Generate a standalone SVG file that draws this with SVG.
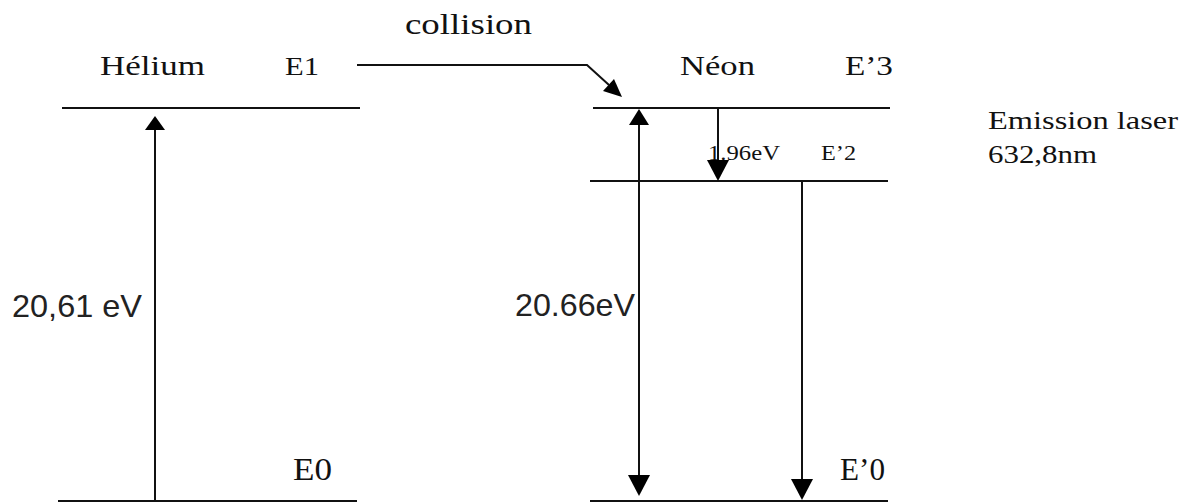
<svg xmlns="http://www.w3.org/2000/svg" width="1186" height="504" viewBox="0 0 1186 504">
  <style>
    .lvl { stroke: #111; stroke-width: 2; fill: none; }
    .conn { stroke: #111; stroke-width: 2; fill: none; }
    .head { fill: #000; stroke: none; }
    .serif { font-family: "Liberation Serif", "Times New Roman", serif; fill: #111; }
    .sans { font-family: "Liberation Sans", Arial, sans-serif; fill: #222; }
  </style>
  <rect width="1186" height="504" fill="#fff"/>

  <g id="helium">
    <text class="serif" x="100" y="75" font-size="27" textLength="105" lengthAdjust="spacingAndGlyphs">Hélium</text>
  </g>
  <g id="level-E1">
    <line class="lvl" x1="62" y1="108" x2="360" y2="108"/>
    <text class="serif" x="285" y="75" font-size="26" textLength="34" lengthAdjust="spacingAndGlyphs">E1</text>
  </g>
  <g id="level-E0">
    <line class="lvl" x1="58" y1="501" x2="357" y2="501"/>
    <text class="serif" x="293" y="480" font-size="31" textLength="39" lengthAdjust="spacingAndGlyphs">E0</text>
  </g>
  <g id="neon">
    <text class="serif" x="680" y="75" font-size="28" textLength="75" lengthAdjust="spacingAndGlyphs">Néon</text>
  </g>
  <g id="level-E3p">
    <line class="lvl" x1="593" y1="108" x2="890" y2="108"/>
    <text class="serif" x="845" y="75" font-size="28" textLength="48" lengthAdjust="spacingAndGlyphs">E’3</text>
  </g>
  <g id="level-E2p">
    <line class="lvl" x1="590" y1="181" x2="888" y2="181"/>
    <text class="serif" x="821" y="160" font-size="22" textLength="35" lengthAdjust="spacingAndGlyphs">E’2</text>
  </g>
  <g id="level-E0p">
    <line class="lvl" x1="590" y1="501" x2="888" y2="501"/>
    <text class="serif" x="840" y="480" font-size="31" textLength="45" lengthAdjust="spacingAndGlyphs">E’0</text>
  </g>
  <g id="laser-label">
    <text class="serif" x="988" y="129" font-size="25" textLength="190" lengthAdjust="spacingAndGlyphs">Emission laser</text>
    <text class="serif" x="988" y="163" font-size="25" textLength="109" lengthAdjust="spacingAndGlyphs">632,8nm</text>
  </g>

  <g id="connectors">
    <!-- collision -->
    <polyline class="conn" points="357,65 587,65 609,85"/>
    <polygon class="head" points="622,97 603,91 614,79"/>
    <text class="serif" x="405" y="34" font-size="29" textLength="127" lengthAdjust="spacingAndGlyphs">collision</text>

    <!-- helium excitation -->
    <line class="conn" x1="155" y1="500" x2="155" y2="128"/>
    <polygon class="head" points="155,116 145,130 165,130"/>
    <text class="sans" x="12" y="317" font-size="32" textLength="130" lengthAdjust="spacingAndGlyphs">20,61 eV</text>

    <!-- neon 20.66 eV double arrow -->
    <line class="conn" x1="639" y1="123" x2="639" y2="478"/>
    <polygon class="head" points="639,109 629,125 649,125"/>
    <polygon class="head" points="639,496 628,475 650,475"/>
    <text class="sans" x="515" y="316" font-size="32" textLength="120" lengthAdjust="spacingAndGlyphs">20.66eV</text>

    <!-- 1.96 eV laser transition -->
    <line class="conn" x1="718" y1="108" x2="718" y2="162"/>
    <polygon class="head" points="718,181 707,160 729,160"/>
    <text class="serif" x="708" y="160" font-size="22" textLength="72" lengthAdjust="spacingAndGlyphs">1.96eV</text>

    <!-- E'2 to E'0 -->
    <line class="conn" x1="802" y1="181" x2="802" y2="481"/>
    <polygon class="head" points="802,500 791,479 813,479"/>
  </g>
</svg>
